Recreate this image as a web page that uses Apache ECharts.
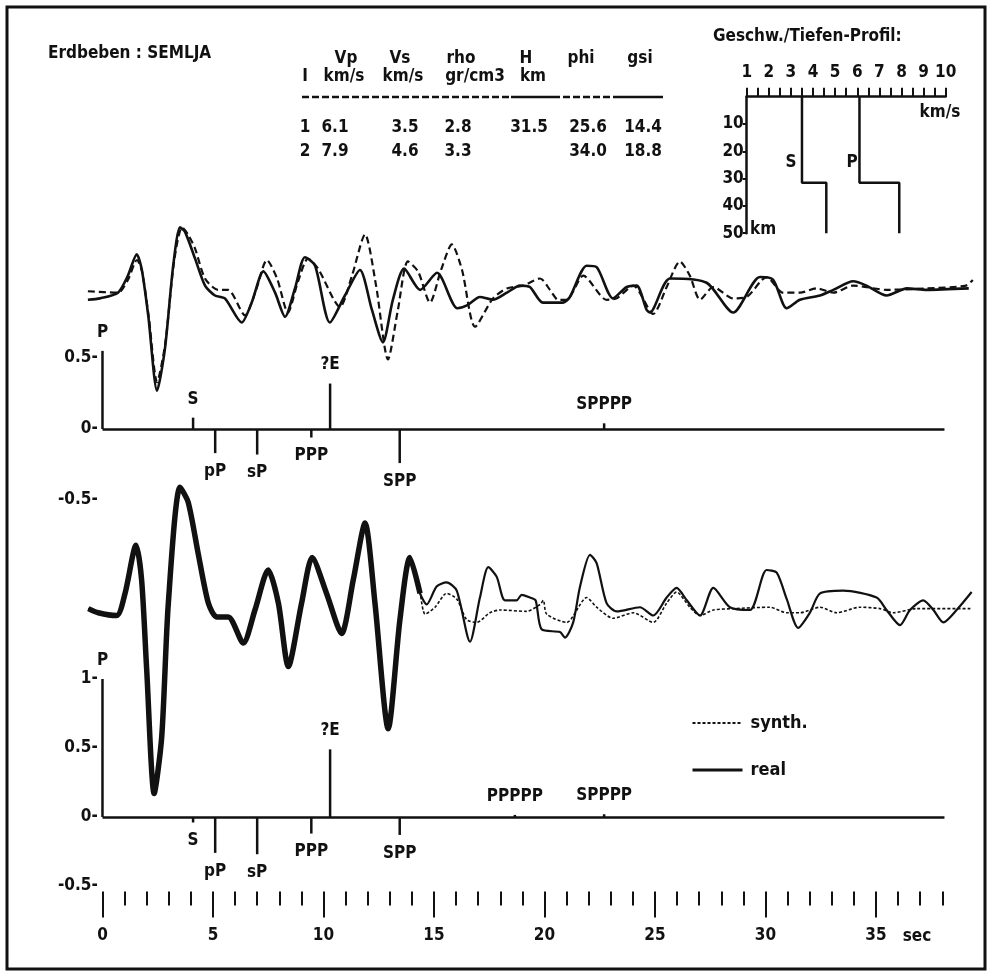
<!DOCTYPE html>
<html>
<head>
<meta charset="utf-8">
<title>Erdbeben SEMLJA</title>
<script src="https://cdn.jsdelivr.net/npm/echarts@6/dist/echarts.min.js"></script>
<style>
html,body{margin:0;padding:0;background:#fff;}
#chart{width:992px;height:977px;}
</style>
</head>
<body>
<div id="chart"></div>
<script>
// layer model (table + velocity profile)
var layerNo = ['1', '2'];
var vp = [6.1, 7.9];
var vs = [3.5, 4.6];
var rho = [2.8, 3.3];
var thick = [31.5, null];
var phi = [25.6, 34.0];
var gsi = [14.4, 18.8];
var profileBottom = 50;

// phase arrivals: time (s), stick height upper / lower panel
var phases = ['P', 'S', 'pP', 'sP', 'PPP', '?E', 'SPP', 'PPPPP', 'SPPPP'];
var phaseTime = [0, 4.1, 5.1, 7.0, 9.45, 10.3, 13.45, 18.66, 22.7];
var upperStick = [0.55, 0.08, -0.17, -0.18, -0.06, 0.32, -0.24, null, 0.04];
var lowerStick = [1.0, -0.04, -0.26, -0.27, -0.12, 0.49, -0.13, 0.015, 0.02];

// seismograms [t (s), amplitude]
var upperReal = [[-0.66,0.91],[-0.11,0.92],[0.70,0.96],[1.15,1.08],[1.55,1.23],[1.77,1.13],[2.07,0.80],[2.47,0.27],[2.83,0.57],[3.20,1.15],[3.51,1.42],[3.73,1.39],[4.19,1.20],[4.64,1.01],[5.09,0.94],[5.54,0.92],[6.30,0.75],[6.75,0.89],[7.28,1.11],[7.81,0.96],[8.26,0.79],[8.71,0.99],[9.16,1.21],[9.62,1.15],[10.29,0.75],[10.97,0.94],[11.65,1.12],[12.19,0.84],[12.69,0.61],[13.14,0.91],[13.65,1.13],[14.37,0.98],[15.14,1.10],[16.06,0.85],[16.49,0.87],[17.08,0.93],[17.67,0.91],[18.30,0.96],[18.89,1.01],[19.34,1.00],[19.93,0.89],[20.84,0.89],[21.15,0.93],[21.91,1.15],[22.36,1.14],[23.10,0.92],[23.72,1.00],[24.17,1.01],[24.62,0.84],[24.77,0.82],[25.68,1.06],[27.34,1.03],[28.54,0.82],[29.75,1.07],[30.35,1.05],[30.96,0.85],[31.56,0.91],[32.47,0.94],[33.07,0.98],[33.97,1.04],[34.57,1.01],[35.48,0.94],[36.40,0.99],[37.30,0.98],[39.20,0.99]];
var upperSynth = [[-0.66,0.97],[0.70,0.96],[1.15,1.05],[1.56,1.19],[1.79,1.11],[2.10,0.78],[2.47,0.33],[2.83,0.59],[3.24,1.18],[3.60,1.42],[3.87,1.37],[4.19,1.27],[4.64,1.06],[5.23,0.98],[5.68,0.98],[6.45,0.80],[6.95,0.98],[7.44,1.19],[7.90,1.06],[8.39,0.82],[8.85,1.04],[9.30,1.20],[9.75,1.13],[10.75,0.86],[11.29,1.08],[11.88,1.37],[12.38,1.01],[12.92,0.49],[13.37,0.84],[13.82,1.18],[14.28,1.11],[14.82,0.89],[15.32,1.12],[15.81,1.30],[16.27,1.12],[16.86,0.72],[17.67,0.92],[18.30,0.99],[19.03,1.01],[19.80,1.06],[20.25,0.98],[20.62,0.91],[21.00,0.91],[21.76,1.08],[22.81,0.91],[23.27,0.92],[24.02,1.01],[24.92,0.81],[25.53,1.00],[26.13,1.18],[26.58,1.08],[27.04,0.91],[27.64,1.00],[28.54,0.92],[29.15,0.93],[30.05,1.07],[30.80,0.96],[31.56,0.96],[32.32,0.99],[33.07,0.96],[33.97,1.01],[35.48,0.98],[37.30,0.99],[39.07,1.01],[39.38,1.05]];
// lower panel: both traces coincide until ~14.4 s
var lowerShared = [[-0.64,1.51],[-0.19,1.48],[0.64,1.46],[1.02,1.62],[1.52,1.97],[1.77,1.72],[2.00,1.07],[2.34,0.17],[2.68,0.58],[2.98,1.55],[3.51,2.39],[3.88,2.28],[4.33,1.91],[4.79,1.55],[5.17,1.45],[5.69,1.45],[6.37,1.26],[6.90,1.50],[7.50,1.79],[7.96,1.55],[8.41,1.09],[9.01,1.55],[9.49,1.88],[10.14,1.62],[10.82,1.33],[11.35,1.72],[11.88,2.13],[12.33,1.55],[12.93,0.64],[13.46,1.43],[13.91,1.88],[14.37,1.62]];
var lowerRealTail = [[14.67,1.54],[15.12,1.67],[15.57,1.70],[16.03,1.64],[16.63,1.27],[17.08,1.59],[17.46,1.81],[17.84,1.74],[18.21,1.57],[18.74,1.57],[18.97,1.61],[19.34,1.59],[19.60,1.57],[19.87,1.36],[20.70,1.34],[20.93,1.30],[21.30,1.41],[21.61,1.67],[22.06,1.90],[22.36,1.84],[22.81,1.55],[23.27,1.49],[24.32,1.52],[24.92,1.46],[25.53,1.59],[25.98,1.66],[26.44,1.57],[27.04,1.46],[27.64,1.66],[28.39,1.52],[29.30,1.50],[30.05,1.79],[30.51,1.77],[30.96,1.58],[31.48,1.37],[32.01,1.48],[32.47,1.62],[33.52,1.64],[35.03,1.59],[35.48,1.50],[36.09,1.39],[36.54,1.50],[37.14,1.57],[37.60,1.50],[38.05,1.41],[38.65,1.50],[39.33,1.63]];
var lowerSynthTail = [[14.60,1.47],[15.05,1.52],[15.57,1.62],[16.03,1.58],[16.48,1.43],[16.93,1.41],[17.53,1.48],[17.99,1.50],[19.19,1.49],[19.80,1.54],[19.95,1.57],[20.10,1.47],[21.00,1.41],[21.91,1.59],[22.36,1.52],[23.11,1.44],[24.02,1.48],[24.92,1.41],[25.53,1.55],[25.98,1.63],[26.58,1.52],[27.04,1.46],[27.64,1.50],[28.54,1.51],[30.20,1.52],[30.96,1.48],[31.56,1.48],[32.47,1.52],[33.22,1.48],[34.27,1.52],[35.18,1.51],[35.78,1.48],[36.84,1.51],[39.30,1.51]];

// axis ticks
var secTicks = [0,1,2,3,4,5,6,7,8,9,10,11,12,13,14,15,16,17,18,19,20,21,22,23,24,25,26,27,28,29,30,31,32,33,34,35,36,37,38];
var secLabels = [0,5,10,15,20,25,30,35];
var upperAmpLabels = [-0.5, 0, 0.5];
var lowerAmpLabels = [-0.5, 0, 0.5, 1];
var velTicks = [1,1.5,2,2.5,3,3.5,4,4.5,5,5.5,6,6.5,7,7.5,8,8.5,9,9.5,10];
var velLabels = [1,2,3,4,5,6,7,8,9,10];
var depthLabels = [10,20,30,40,50];

var FONT = "'DejaVu Sans Condensed','Liberation Sans Narrow','DejaVu Sans',sans-serif";
var BF = 'bold 17px ' + FONT;

function sticks(amp) {
    var out = [];
    for (var i = 0; i < phases.length; i++) {
        if (amp[i] === null) continue;
        out.push({name: phases[i], value: [phaseTime[i], amp[i]]});
    }
    return out;
}
function txt(s, x, y, align) {
    return {type: 'text', silent: true, style: {text: s, x: x, y: y, font: BF, fill: '#111',
        textAlign: align || 'center', textVerticalAlign: 'middle'}};
}

var lowerReal = lowerShared.concat(lowerRealTail);
var lowerSynth = lowerShared.concat(lowerSynthTail);
var sProfile = [[vs[0], 0], [vs[0], thick[0]], [vs[1], thick[0]], [vs[1], profileBottom]];
var pProfile = [[vp[0], 0], [vp[0], thick[0]], [vp[1], thick[0]], [vp[1], profileBottom]];

// frame, table and headings
var graphics = [
    {type: 'rect', silent: true, shape: {x: 7, y: 7, width: 978, height: 962},
        style: {fill: null, stroke: '#111', lineWidth: 3}},
    txt('Erdbeben : SEMLJA', 48, 54, 'left'),
    txt('Vp', 346, 59), txt('Vs', 400, 59), txt('rho', 461, 59), txt('H', 526, 59), txt('phi', 581, 59), txt('gsi', 640, 59),
    txt('I', 305, 77), txt('km/s', 344, 77), txt('km/s', 403, 77), txt('gr/cm3', 475, 77), txt('km', 533, 77),
    {type: 'line', silent: true, shape: {x1: 302, y1: 97, x2: 511, y2: 97}, style: {stroke: '#111', lineWidth: 2.5, lineDash: [7, 3]}},
    {type: 'line', silent: true, shape: {x1: 511, y1: 97, x2: 553, y2: 97}, style: {stroke: '#111', lineWidth: 2.5}},
    {type: 'line', silent: true, shape: {x1: 553, y1: 97, x2: 618, y2: 97}, style: {stroke: '#111', lineWidth: 2.5, lineDash: [7, 3]}},
    {type: 'line', silent: true, shape: {x1: 618, y1: 97, x2: 663, y2: 97}, style: {stroke: '#111', lineWidth: 2.5}},
    txt('Geschw./Tiefen-Profil:', 713, 37, 'left'),
    txt('km/s', 940, 113),
    txt('km', 750, 230, 'left'),
    txt('S', 791, 163), txt('P', 852, 163),
    txt('sec', 917, 937)
];
var colX = [305, 335, 405, 458, 529, 588, 643];
var rowY = [128, 152];
for (var r = 0; r < layerNo.length; r++) {
    var cells = [layerNo[r], vp[r].toFixed(1), vs[r].toFixed(1), rho[r].toFixed(1),
        thick[r] === null ? '' : thick[r].toFixed(1), phi[r].toFixed(1), gsi[r].toFixed(1)];
    for (var c = 0; c < cells.length; c++) {
        if (cells[c]) graphics.push(txt(cells[c], colX[c], rowY[r]));
    }
}

var black = '#111';
var zeroLine = function () {
    return {silent: true, symbol: 'none', label: {show: false},
        lineStyle: {color: black, width: 2.5, type: 'solid'},
        data: [[{coord: [0, 0]}, {coord: [38.1, 0]}]]};
};
var stickLabel = {show: true, position: 'outside', distance: 10, formatter: '{b}',
    color: black, fontFamily: FONT, fontWeight: 'bold', fontSize: 17};
var ampLabel = {color: black, fontFamily: FONT, fontWeight: 'bold', fontSize: 17, margin: 1,
    formatter: function (v) { return v + '-'; }};
var SMOOTH = 0.25;

var chart = echarts.init(document.getElementById('chart'));
chart.setOption({
    backgroundColor: '#fff',
    animation: false,
    color: [black],
    graphic: graphics,
    legend: {
        left: 686, top: 709, orient: 'vertical', itemWidth: 50, itemHeight: 14, itemGap: 29,
        selectedMode: false,
        itemStyle: {opacity: 0},
        textStyle: {color: black, fontFamily: FONT, fontWeight: 'bold', fontSize: 18, padding: [0, 0, 0, 3]},
        data: [
            {name: 'synth.', lineStyle: {width: 2, type: [3, 2], color: black}},
            {name: 'real', lineStyle: {width: 3, color: black}}
        ]
    },
    grid: [
        {left: 84.8, width: 890.6, top: 216, height: 284},
        {left: 84.8, width: 890.6, top: 472, height: 419.5},
        {left: 746.7, width: 199, top: 96.7, height: 136.5}
    ],
    xAxis: [
        {gridIndex: 0, type: 'value', min: -0.8, max: 39.5, show: false},
        {gridIndex: 1, type: 'value', min: -0.8, max: 39.5, position: 'bottom',
            axisLine: {show: false, onZero: false}, splitLine: {show: false}, axisLabel: {show: false},
            axisTick: {show: true, customValues: secTicks, length: 14, lineStyle: {color: black, width: 2}}},
        {gridIndex: 1, type: 'value', min: -0.8, max: 39.5, position: 'bottom',
            axisLine: {show: false, onZero: false}, splitLine: {show: false},
            axisTick: {show: true, customValues: secLabels, length: 26, lineStyle: {color: black, width: 2}},
            axisLabel: {customValues: secLabels, margin: 36, color: black, fontFamily: FONT, fontWeight: 'bold', fontSize: 17}},
        {gridIndex: 2, type: 'value', min: 1, max: 10, position: 'top',
            axisLine: {show: true, onZero: false, lineStyle: {color: black, width: 2.5}}, splitLine: {show: false},
            axisTick: {show: true, customValues: velTicks, length: 9, lineStyle: {color: black, width: 2}},
            axisLabel: {customValues: velLabels, margin: 16, color: black, fontFamily: FONT, fontWeight: 'bold', fontSize: 17}}
    ],
    yAxis: [
        {gridIndex: 0, type: 'value', min: -0.5, max: 1.5, offset: -14,
            axisLine: {show: false, onZero: false}, axisTick: {show: false}, splitLine: {show: false},
            axisLabel: Object.assign({customValues: upperAmpLabels}, ampLabel)},
        {gridIndex: 1, type: 'value', min: -0.54, max: 2.5, offset: -14,
            axisLine: {show: false, onZero: false}, axisTick: {show: false}, splitLine: {show: false},
            axisLabel: Object.assign({customValues: lowerAmpLabels}, ampLabel)},
        {gridIndex: 2, type: 'value', min: 0, max: profileBottom, inverse: true,
            axisLine: {show: true, onZero: false, lineStyle: {color: black, width: 2.5}}, splitLine: {show: false},
            axisTick: {show: true, customValues: depthLabels, length: 4, lineStyle: {color: black, width: 2}},
            axisLabel: {customValues: depthLabels, margin: 3, color: black, fontFamily: FONT, fontWeight: 'bold', fontSize: 17}}
    ],
    series: [
        {name: 'synth.', type: 'line', xAxisIndex: 1, yAxisIndex: 1, data: lowerSynth, symbol: 'none', smooth: SMOOTH,
            lineStyle: {color: black, width: 1.6, type: [3, 2]}, z: 3},
        {name: 'real', type: 'line', xAxisIndex: 1, yAxisIndex: 1, data: lowerReal, symbol: 'none', smooth: SMOOTH,
            lineStyle: {color: black, width: 2.2}, z: 3},
        {name: 'both', type: 'line', xAxisIndex: 1, yAxisIndex: 1, data: lowerShared, symbol: 'none', smooth: SMOOTH,
            lineStyle: {color: black, width: 5.5}, z: 4},
        {name: 'synth.', type: 'line', xAxisIndex: 0, yAxisIndex: 0, data: upperSynth, symbol: 'none', smooth: SMOOTH,
            lineStyle: {color: black, width: 2.2, type: [7, 4]}, z: 3},
        {name: 'real', type: 'line', xAxisIndex: 0, yAxisIndex: 0, data: upperReal, symbol: 'none', smooth: SMOOTH,
            lineStyle: {color: black, width: 2.6}, z: 3},
        {name: 'phases upper', type: 'bar', xAxisIndex: 0, yAxisIndex: 0, data: sticks(upperStick),
            barWidth: 2.5, itemStyle: {color: black}, label: stickLabel, markLine: zeroLine()},
        {name: 'phases lower', type: 'bar', xAxisIndex: 1, yAxisIndex: 1, data: sticks(lowerStick),
            barWidth: 2.5, itemStyle: {color: black}, label: stickLabel, markLine: zeroLine()},
        {name: 'Vs', type: 'line', xAxisIndex: 3, yAxisIndex: 2, data: sProfile, symbol: 'none',
            lineStyle: {color: black, width: 2.5}},
        {name: 'Vp', type: 'line', xAxisIndex: 3, yAxisIndex: 2, data: pProfile, symbol: 'none',
            lineStyle: {color: black, width: 2.5}}
    ]
});
</script>
</body>
</html>
